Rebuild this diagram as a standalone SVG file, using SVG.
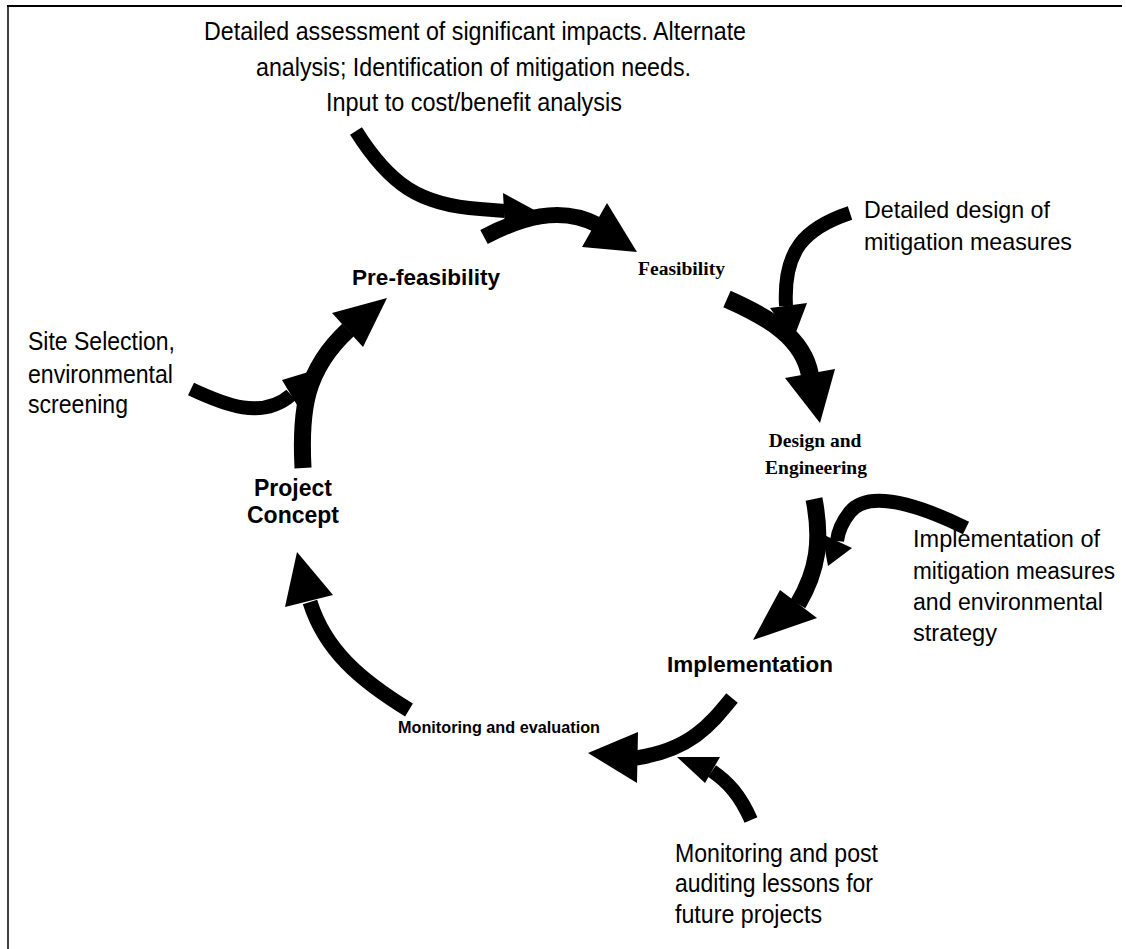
<svg xmlns="http://www.w3.org/2000/svg" width="1126" height="949" viewBox="0 0 1126 949">
<style>
.shaft{fill:none;stroke:#000;stroke-linecap:butt;stroke-linejoin:round}
.head{fill:#000;stroke:none}
.lbl{font-family:"Liberation Sans",Arial,sans-serif;fill:#000}
.nb{font-family:"Liberation Sans",Arial,sans-serif;font-weight:bold;fill:#000}
.ns{font-family:"Liberation Serif","Times New Roman",serif;font-weight:bold;fill:#000}
.frame{stroke:#000;fill:none}
</style>
<rect width="1126" height="949" fill="#fff"/>
<g id="frame">
<line class="frame" x1="7" y1="6" x2="1122" y2="6" stroke-width="2"/>
<line class="frame" x1="8" y1="6" x2="8" y2="949" stroke-width="1.5"/>
</g>
<g id="connectors">
<path class="shaft" stroke-width="14" d="M356,131 C390,185 420,205 480,209 L505,211"/>
<polygon class="head" points="503,193 538,212 505,230"/>
<path class="shaft" stroke-width="16" d="M484,237 C520,218 560,205 598,225"/>
<polygon class="head" points="607,203 637,252 582,247"/>
<path class="shaft" stroke-width="14" d="M850,213 C805,228 783,250 786,306"/>
<polygon class="head" points="770,308 807,303 793,340"/>
<path class="shaft" stroke-width="18" d="M727,299 C770,318 803,338 810,375"/>
<polygon class="head" points="785,378 835,369 820,423"/>
<path class="shaft" stroke-width="17" d="M814,499 C822,540 818,570 798,604"/>
<polygon class="head" points="780,590 817,618 753,640"/>
<path class="shaft" stroke-width="14" d="M966,528 C915,503 868,490 850,512 C842,522 838,532 837,541"/>
<polygon class="head" points="822,534 852,548 828,566"/>
<path class="shaft" stroke-width="15" d="M732,698 C710,725 690,750 636,758"/>
<polygon class="head" points="638,732 637,783 588,753"/>
<path class="shaft" stroke-width="14" d="M751,820 C740,795 728,782 712,771"/>
<polygon class="head" points="720,757 705,783 677,757"/>
<path class="shaft" stroke-width="15" d="M409,710 C360,680 325,650 310,602"/>
<polygon class="head" points="285,607 333,595 297,552"/>
<path class="shaft" stroke-width="14" d="M191,389 C225,405 262,420 291,395"/>
<polygon class="head" points="282,380 300,410 315,370"/>
<path class="shaft" stroke-width="17" d="M303,468 C300,410 305,370 348,330"/>
<polygon class="head" points="332,313 363,347 387,298"/>
</g>
<g id="note-assessment">
<text class="lbl" font-size="26" x="204" y="40" textLength="542" lengthAdjust="spacingAndGlyphs">Detailed assessment of significant impacts. Alternate</text>
<text class="lbl" font-size="26" x="256" y="76" textLength="435" lengthAdjust="spacingAndGlyphs">analysis; Identification of mitigation needs.</text>
<text class="lbl" font-size="26" x="326" y="111" textLength="296" lengthAdjust="spacingAndGlyphs">Input to cost/benefit analysis</text>
</g>
<g id="note-design">
<text class="lbl" font-size="24" x="864" y="218" textLength="186" lengthAdjust="spacingAndGlyphs">Detailed design of</text>
<text class="lbl" font-size="24" x="864" y="250" textLength="208" lengthAdjust="spacingAndGlyphs">mitigation measures</text>
</g>
<g id="note-site">
<text class="lbl" font-size="26" x="28" y="350" textLength="147" lengthAdjust="spacingAndGlyphs">Site Selection,</text>
<text class="lbl" font-size="26" x="28" y="383" textLength="145" lengthAdjust="spacingAndGlyphs">environmental</text>
<text class="lbl" font-size="26" x="28" y="413" textLength="100" lengthAdjust="spacingAndGlyphs">screening</text>
</g>
<g id="note-implementation">
<text class="lbl" font-size="23.5" x="913" y="547" textLength="187" lengthAdjust="spacingAndGlyphs">Implementation of</text>
<text class="lbl" font-size="23.5" x="913" y="579" textLength="202" lengthAdjust="spacingAndGlyphs">mitigation measures</text>
<text class="lbl" font-size="23.5" x="913" y="610" textLength="190" lengthAdjust="spacingAndGlyphs">and environmental</text>
<text class="lbl" font-size="23.5" x="913" y="641" textLength="84" lengthAdjust="spacingAndGlyphs">strategy</text>
</g>
<g id="note-monitoring">
<text class="lbl" font-size="26" x="675" y="862" textLength="203" lengthAdjust="spacingAndGlyphs">Monitoring and post</text>
<text class="lbl" font-size="26" x="675" y="892" textLength="198" lengthAdjust="spacingAndGlyphs">auditing lessons for</text>
<text class="lbl" font-size="26" x="675" y="923" textLength="147" lengthAdjust="spacingAndGlyphs">future projects</text>
</g>
<g id="node-prefeasibility">
<text class="nb" font-size="22" x="352" y="285" textLength="148" lengthAdjust="spacingAndGlyphs">Pre-feasibility</text>
</g>
<g id="node-feasibility">
<text class="ns" font-size="18.5" x="638" y="275" textLength="87" lengthAdjust="spacingAndGlyphs">Feasibility</text>
</g>
<g id="node-design">
<text class="ns" font-size="19.5" x="815" y="447" text-anchor="middle">Design and</text>
<text class="ns" font-size="19.5" x="816" y="474" text-anchor="middle">Engineering</text>
</g>
<g id="node-implementation">
<text class="nb" font-size="22" x="667" y="672" textLength="166" lengthAdjust="spacingAndGlyphs">Implementation</text>
</g>
<g id="node-monitoring">
<text class="nb" font-size="16.5" x="398" y="733" textLength="202" lengthAdjust="spacingAndGlyphs">Monitoring and evaluation</text>
</g>
<g id="node-concept">
<text class="nb" font-size="23" x="293" y="496" text-anchor="middle">Project</text>
<text class="nb" font-size="23" x="293" y="523" text-anchor="middle">Concept</text>
</g>
</svg>
